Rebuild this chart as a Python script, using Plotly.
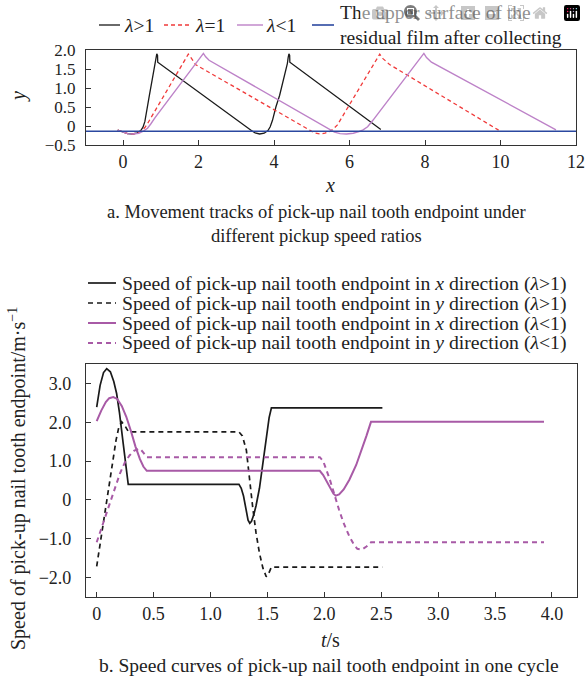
import plotly.graph_objects as go

# ---------------- data: panel a (trajectories) ----------------
x_gt1 = [-0.14, 0.0, 0.12, 0.26, 0.38, 0.47, 0.53, 0.58, 0.64, 0.70, 0.77, 0.83, 0.875, 0.88, 0.895, 0.915, 0.91, 0.92,
         3.40, 3.50, 3.62, 3.74, 3.84, 3.90, 3.96, 4.05, 4.15, 4.22, 4.29, 4.355, 4.375, 4.395, 4.415, 4.41, 4.42, 6.83]
y_gt1 = [-0.11, -0.17, -0.20, -0.21, -0.18, -0.12, -0.03, 0.12, 0.42, 0.81, 1.20, 1.51, 1.72, 1.82, 1.90, 1.86, 1.75, 1.68,
         -0.12, -0.18, -0.21, -0.19, -0.12, -0.02, 0.15, 0.50, 0.81, 1.10, 1.33, 1.65, 1.80, 1.90, 1.86, 1.75, 1.68, -0.09]

x_eq1 = [-0.14, 0.0, 0.12, 0.26, 0.40, 0.50, 0.58, 0.66, 1.73, 1.80, 1.93,
         5.00, 5.10, 5.21, 5.35, 5.48, 5.58, 5.68, 6.80, 6.88, 7.06, 9.95]
y_eq1 = [-0.11, -0.17, -0.20, -0.21, -0.18, -0.12, -0.04, 0.08, 1.89, 1.80, 1.61,
         -0.14, -0.19, -0.21, -0.19, -0.14, -0.07, 0.03, 1.89, 1.78, 1.62, -0.11]

x_lt1 = [-0.14, 0.0, 0.12, 0.26, 0.42, 0.55, 0.65, 0.74, 0.85, 2.13, 2.19, 2.28,
         5.46, 5.60, 5.75, 5.92, 6.10, 6.25, 6.36, 6.48, 6.62, 7.97, 8.04, 8.17, 11.47]
y_lt1 = [-0.11, -0.17, -0.20, -0.21, -0.19, -0.13, -0.06, 0.06, 0.22, 1.91, 1.82, 1.73,
         -0.10, -0.16, -0.20, -0.21, -0.19, -0.15, -0.10, -0.02, 0.15, 1.91, 1.80, 1.68, -0.10]

x_film = [-0.98, 12]
y_film = [-0.14, -0.14]

# ---------------- data: panel b (speeds) ----------------
t_vx_gt1 = [0, 0.03, 0.06, 0.088, 0.12, 0.15, 0.175, 0.20, 0.233, 0.255, 0.277, 1.25, 1.27, 1.29, 1.31, 1.33, 1.345,
            1.36, 1.38, 1.40, 1.43, 1.46, 1.49, 1.515, 1.535, 2.51]
v_vx_gt1 = [2.39, 2.95, 3.28, 3.38, 3.30, 3.05, 2.74, 2.25, 1.45, 0.90, 0.40, 0.40, 0.30, 0.10, -0.22, -0.52, -0.60,
            -0.55, -0.38, -0.15, 0.30, 0.95, 1.60, 2.12, 2.37, 2.37]

t_vy_gt1 = [0, 0.085, 0.17, 0.195, 0.22, 0.25, 0.28, 1.25, 1.28, 1.315, 1.34, 1.37, 1.40, 1.43, 1.46, 1.49, 1.51, 1.535, 2.51]
v_vy_gt1 = [-1.71, -0.08, 1.54, 1.88, 2.01, 1.90, 1.75, 1.75, 1.65, 1.28, 0.60, -0.17, -0.85, -1.37, -1.75, -1.98, -1.90,
            -1.73, -1.73]

t_vx_lt1 = [0, 0.04, 0.08, 0.11, 0.146, 0.18, 0.22, 0.26, 0.30, 0.34, 0.38, 0.41, 0.44, 1.96, 1.99, 2.02, 2.05, 2.08,
            2.10, 2.13, 2.17, 2.22, 2.28, 2.33, 2.37, 2.41, 3.93]
v_vx_lt1 = [2.03, 2.30, 2.52, 2.62, 2.65, 2.60, 2.42, 2.14, 1.78, 1.38, 1.05, 0.86, 0.75, 0.75, 0.64, 0.47, 0.30, 0.16,
            0.11, 0.14, 0.27, 0.52, 0.90, 1.30, 1.65, 2.01, 2.01]

t_vy_lt1 = [0, 0.04, 0.088, 0.15, 0.204, 0.25, 0.29, 0.33, 0.38, 0.41, 0.44, 1.96, 1.99, 2.05, 2.09, 2.13, 2.17, 2.22,
            2.26, 2.29, 2.33, 2.37, 2.41, 3.93]
v_vy_lt1 = [-1.09, -0.75, -0.34, 0.17, 0.68, 0.98, 1.15, 1.27, 1.32, 1.22, 1.10, 1.10, 1.00, 0.51, 0.10, -0.26, -0.60,
            -0.94, -1.15, -1.26, -1.28, -1.20, -1.09, -1.09]

xa_ticks = [0, 2, 4, 6, 8, 10, 12]
ya_ticks = [2.0, 1.5, 1.0, 0.5, 0, -0.5]
ya_text = ["2.0", "1.5", "1.0", "0.5", "0", "\u22120.5"]
xb_ticks = [0, 0.5, 1.0, 1.5, 2.0, 2.5, 3.0, 3.5, 4.0]
xb_text = ["0", "0.5", "1.0", "1.5", "2.0", "2.5", "3.0", "3.5", "4.0"]
yb_ticks = [3, 2, 1, 0, -1, -2]
yb_text = ["3.0", "2.0", "1.0", "0", "\u22121.0", "\u22122.0"]

names_a = ["<i>\u03bb</i>>1", "<i>\u03bb</i>=1", "<i>\u03bb</i><1",
           "The upper surface of the<br>residual film after collecting"]
names_b = ["Speed of pick-up nail tooth endpoint in <i>x</i> direction (<i>\u03bb</i>>1)",
           "Speed of pick-up nail tooth endpoint in <i>y</i> direction (<i>\u03bb</i>>1)",
           "Speed of pick-up nail tooth endpoint in <i>x</i> direction (<i>\u03bb</i><1)",
           "Speed of pick-up nail tooth endpoint in <i>y</i> direction (<i>\u03bb</i><1)"]

FONT = "Liberation Serif, Times New Roman, serif"
W, H = 586, 690
TXT = "#222222"
BLACK = "#1a1a1a"
RED = "#f03a3a"
PURPLE_A = "#bd82c8"
PURPLE_B = "#a85aa6"
BLUE = "#2b48a0"

styles_a = [dict(color=BLACK, width=1.3), dict(color=RED, width=1.3, dash="4px,3px"),
            dict(color=PURPLE_A, width=1.4), dict(color=BLUE, width=1.6)]
styles_b = [dict(color=BLACK, width=1.7), dict(color=BLACK, width=1.7, dash="5px,4px"),
            dict(color=PURPLE_B, width=2.0), dict(color=PURPLE_B, width=2.0, dash="5px,4px")]

fig = go.Figure()
for xs, ys, nm, st in zip([x_gt1, x_eq1, x_lt1, x_film], [y_gt1, y_eq1, y_lt1, y_film], names_a, styles_a):
    fig.add_trace(go.Scatter(x=xs, y=ys, mode="lines", name=nm, line=st, xaxis="x", yaxis="y", showlegend=False))
for xs, ys, nm, st in zip([t_vx_gt1, t_vy_gt1, t_vx_lt1, t_vy_lt1], [v_vx_gt1, v_vy_gt1, v_vx_lt1, v_vy_lt1],
                          names_b, styles_b):
    fig.add_trace(go.Scatter(x=xs, y=ys, mode="lines", name=nm, line=st, xaxis="x2", yaxis="y2", showlegend=False))


def px(xp):
    return xp / W


def py(yp):
    return 1 - yp / H


axis_common = dict(showline=True, linecolor="#333", linewidth=1.2, mirror=True, ticks="inside", ticklen=5,
                   tickcolor="#333", showgrid=False, zeroline=False, ticklabeloverflow="allow")

fig.update_layout(
    width=W, height=H, margin=dict(l=0, r=0, t=0, b=0, autoexpand=False),
    paper_bgcolor="white", plot_bgcolor="white",
    font=dict(family=FONT, size=18, color=TXT),
    xaxis=dict(domain=[px(86), px(576)], range=[-0.98, 12], tickvals=xa_ticks, anchor="y",
               tickfont=dict(family=FONT, size=18, color=TXT), **axis_common),
    yaxis=dict(domain=[py(145), py(50)], range=[-0.5, 2.0], tickvals=ya_ticks, ticktext=ya_text, anchor="x",
               ticklabelstandoff=6, tickfont=dict(family=FONT, size=17, color=TXT), **axis_common),
    xaxis2=dict(domain=[px(86), px(577)], range=[-0.094, 4.22], tickvals=xb_ticks, ticktext=xb_text, anchor="y2",
                tickfont=dict(family=FONT, size=18, color=TXT), **axis_common),
    yaxis2=dict(domain=[py(597), py(364)], range=[-2.5, 3.5], tickvals=yb_ticks, ticktext=yb_text, anchor="x2",
                ticklabelstandoff=10, tickfont=dict(family=FONT, size=18, color=TXT), **axis_common),
    showlegend=False,
)

# ---- legend (panel a): sample lines + labels ----
shapes = []
annotations = []
leg_a_y = 25
leg_a_samples = [(99, 120), (164, 192), (237, 263), (312, 334)]
leg_a_text_x = [122, 193, 264, 338]
for (x0, x1), tx, nm, st in zip(leg_a_samples, leg_a_text_x, names_a, styles_a):
    shapes.append(dict(type="line", xref="paper", yref="paper", x0=px(x0), x1=px(x1), y0=py(leg_a_y),
                       y1=py(leg_a_y), line=st))
    annotations.append(dict(text=nm, x=px(tx), y=py(leg_a_y), xref="paper", yref="paper", xanchor="left",
                            yanchor="middle", align="left", showarrow=False,
                            font=dict(family=FONT, size=19.5, color=TXT)))

# ---- legend (panel b) ----
leg_b_rows = [283, 303, 323, 343]
for yr, nm, st in zip(leg_b_rows, names_b, styles_b):
    shapes.append(dict(type="line", xref="paper", yref="paper", x0=px(88), x1=px(116), y0=py(yr), y1=py(yr),
                       line=st))
    annotations.append(dict(text=nm, x=px(120), y=py(yr), xref="paper", yref="paper", xanchor="left",
                            yanchor="middle", showarrow=False, font=dict(family=FONT, size=19.7, color=TXT)))

center = dict(xref="paper", yref="paper", showarrow=False, xanchor="center", yanchor="middle")
annotations += [
    dict(text="<i>x</i>", x=px(330), y=py(185), font=dict(family=FONT, size=20, color=TXT), **center),
    dict(text="<i>y</i>", x=px(19), y=py(96), textangle=-90, font=dict(family=FONT, size=20, color=TXT), **center),
    dict(text="a. Movement tracks of pick-up nail tooth endpoint under<br>different pickup speed ratios",
         x=px(316), y=py(224), font=dict(family=FONT, size=18.5, color=TXT), **center),
    dict(text="<i>t</i>/s", x=px(330), y=py(640), font=dict(family=FONT, size=20, color=TXT), **center),
    dict(text="Speed of pick-up nail tooth endpoint/m\u00b7s<sup>\u22121</sup>", x=px(18), y=py(479),
         textangle=-90, font=dict(family=FONT, size=20, color=TXT), **center),
    dict(text="b. Speed curves of pick-up nail tooth endpoint in one cycle",
         x=px(329), y=py(665), font=dict(family=FONT, size=19.5, color=TXT), **center),
]
fig.update_layout(annotations=annotations, shapes=shapes)

# remove the page's default body margin so the 586x690 figure fills the window without scrollbars
fig.write_html("out.html",
               post_script="document.body.style.margin='0';document.body.style.overflow='hidden';")
